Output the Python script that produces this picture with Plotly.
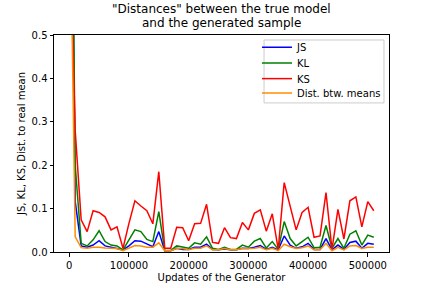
import plotly.graph_objects as go

updates = [i * 10000 for i in range(52)]

js = [1.5, 0.116, 0.014, 0.011, 0.016, 0.026, 0.014, 0.011, 0.009, 0.005,
      0.014, 0.026, 0.025, 0.018, 0.012, 0.047, 0.003, 0.003, 0.0085, 0.006,
      0.006, 0.011, 0.011, 0.018, 0.006, 0.005, 0.007, 0.005, 0.005, 0.0085,
      0.008, 0.011, 0.015, 0.006, 0.011, 0.005, 0.037, 0.016, 0.0085, 0.012,
      0.02, 0.006, 0.006, 0.031, 0.005, 0.016, 0.006, 0.022, 0.025, 0.0085,
      0.02, 0.018]

kl = [1.5, 0.2, 0.02, 0.014, 0.028, 0.049, 0.024, 0.016, 0.014, 0.005,
      0.028, 0.051, 0.047, 0.029, 0.024, 0.093, 0.003, 0.004, 0.014, 0.011,
      0.0085, 0.021, 0.018, 0.035, 0.0085, 0.006, 0.011, 0.006, 0.006, 0.016,
      0.011, 0.025, 0.031, 0.009, 0.024, 0.006, 0.07, 0.031, 0.014, 0.024,
      0.034, 0.01, 0.011, 0.061, 0.0085, 0.031, 0.0085, 0.041, 0.049, 0.016,
      0.039, 0.034]

ks = [0.8, 0.28, 0.074, 0.047, 0.095, 0.091, 0.081, 0.051, 0.058, 0.0085,
      0.066, 0.118, 0.106, 0.095, 0.065, 0.185, 0.0085, 0.0085, 0.057, 0.056,
      0.026, 0.065, 0.066, 0.11, 0.022, 0.02, 0.056, 0.033, 0.031, 0.068,
      0.051, 0.089, 0.097, 0.048, 0.088, 0.006, 0.16, 0.104, 0.051, 0.091,
      0.103, 0.034, 0.037, 0.137, 0.006, 0.098, 0.03, 0.118, 0.127, 0.058,
      0.116, 0.095]

dist_means = [0.95, 0.035, 0.01, 0.0085, 0.011, 0.011, 0.009, 0.008, 0.008, 0.003,
              0.0085, 0.015, 0.014, 0.011, 0.011, 0.021, 0.003, 0.003, 0.008, 0.008,
              0.005, 0.0085, 0.0085, 0.014, 0.005, 0.005, 0.008, 0.005, 0.005, 0.008,
              0.008, 0.0085, 0.011, 0.005, 0.0085, 0.003, 0.018, 0.012, 0.008, 0.01,
              0.014, 0.005, 0.005, 0.02, 0.003, 0.011, 0.005, 0.014, 0.015, 0.008,
              0.011, 0.011]

series = [
    ("JS", js, "#0000ff"),
    ("KL", kl, "#008000"),
    ("KS", ks, "#ff0000"),
    ("Dist. btw. means", dist_means, "#ff8c00"),
]

x_ticks = [0, 100000, 200000, 300000, 400000, 500000]
y_ticks = [0.0, 0.1, 0.2, 0.3, 0.4, 0.5]
title_lines = ['"Distances" between the true model', "and the generated sample"]

font_family = "DejaVu Sans"
legend_names = ["legend", "legend2", "legend3", "legend4"]
legend_y = [0.943, 0.871, 0.799, 0.733]

fig = go.Figure()
for (name, vals, color), lg in zip(series, legend_names):
    fig.add_trace(go.Scatter(x=updates, y=vals, mode="lines", name=name, legend=lg,
                             line=dict(color=color, width=1.5)))

layout_legends = {}
for lg, ly in zip(legend_names, legend_y):
    layout_legends[lg] = dict(x=0.606, y=ly, xanchor="left", yanchor="middle",
                              bgcolor="rgba(0,0,0,0)", borderwidth=0, itemwidth=30,
                              font=dict(size=10, family=font_family, color="black"))

fig.update_layout(
    width=432, height=288,
    margin=dict(l=54, r=43, t=35, b=36, autoexpand=False),
    paper_bgcolor="white", plot_bgcolor="white",
    font=dict(family=font_family, size=10, color="black"),
    showlegend=True,
    **layout_legends,
)
fig.add_shape(type="rect", xref="paper", yref="paper", x0=0.627, x1=0.985, y0=0.687, y1=0.977,
              line=dict(color="#cccccc", width=1), fillcolor="rgba(255,255,255,0.8)",
              layer="above")

for i, line in enumerate(title_lines):
    fig.add_annotation(text=line, xref="paper", x=0.5, xanchor="center",
                       yref="paper", y=1, yanchor="bottom", yshift=17 - 14 * i,
                       showarrow=False, font=dict(size=12, family=font_family, color="black"))

fig.update_xaxes(range=[-25500, 535500], tickvals=x_ticks,
                 ticktext=[str(v) for v in x_ticks], automargin=False,
                 showgrid=False, zeroline=False, showline=True, linecolor="black",
                 linewidth=1, mirror=True, ticks="outside", ticklen=3.5, tickcolor="black",
                 title=dict(text="Updates of the Generator", standoff=4,
                            font=dict(size=10)))
fig.update_yaxes(range=[0, 0.5], tickvals=y_ticks,
                 ticktext=["%.1f" % v for v in y_ticks], automargin=False,
                 showgrid=False, zeroline=False, showline=True, linecolor="black",
                 linewidth=1, mirror=True, ticks="outside", ticklen=3.5, tickcolor="black",
                 title=dict(text="JS, KL, KS, Dist. to real mean", standoff=4,
                            font=dict(size=10)))

fig.write_html("out.html", config={"displayModeBar": False},
               post_script="document.body.style.margin='0';document.body.style.overflow='hidden';")
